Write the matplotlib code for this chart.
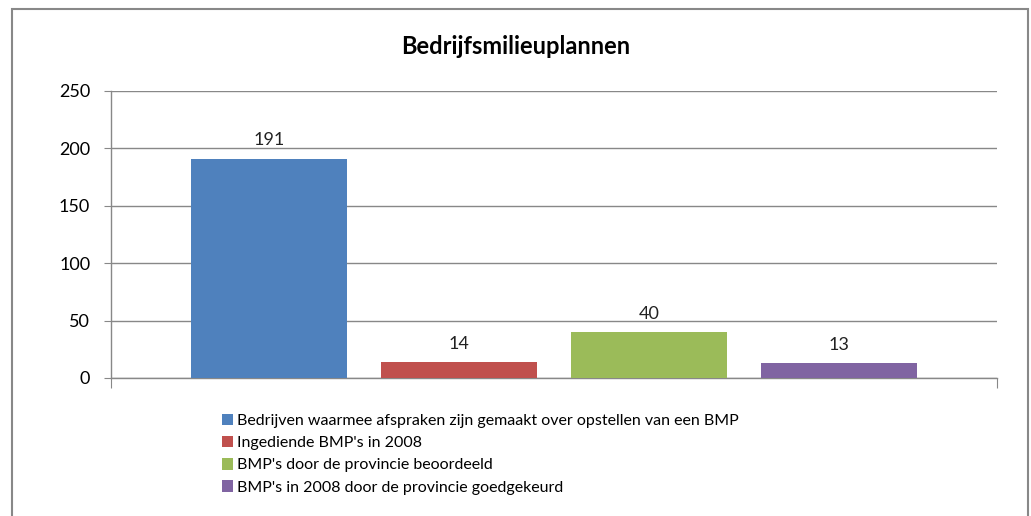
import matplotlib.pyplot as plt
from matplotlib.patches import Rectangle, Patch

plt.rcParams['font.family'] = ['Lato', 'DejaVu Sans']

# Gegevens
labels = ["Bedrijven waarmee afspraken zijn gemaakt over opstellen van een BMP",
          "Ingediende BMP's in 2008",
          "BMP's door de provincie beoordeeld",
          "BMP's in 2008 door de provincie goedgekeurd"]
values = [191, 14, 40, 13]
colors = ['#4F81BD', '#C0504D', '#9BBB59', '#8064A2']

fig = plt.figure(figsize=(10.31, 5.16), dpi=100)
W, H = 1031, 516

# rand om de grafiek
fig.patches.append(Rectangle((12 / W, -0.05), 1016 / W, 1 - 9 / H + 0.05,
                             transform=fig.transFigure, fill=False,
                             edgecolor='#888888', linewidth=1.5))

ax = fig.add_axes([111 / W, 1 - 378 / H, 886 / W, 287 / H])

# één categorie, vier series naast elkaar
step = 0.2144
width = 0.176
x = [(i - 1.5) * step for i in range(len(values))]
ax.bar(x, values, width=width, color=colors, zorder=3)
for xi, v in zip(x, values):
    ax.text(xi, v + 9, str(v), ha='center', va='bottom', fontsize=13, color='#222222')

ax.set_ylim(0, 250)
ax.set_xlim(-0.5, 0.5)
ax.set_yticks(range(0, 251, 50))
ax.tick_params(axis='y', labelsize=13, length=5, color='#888888', pad=10)
ax.set_xticks([-0.5, 0.5])
ax.set_xticklabels([])
ax.tick_params(axis='x', length=7, color='#888888', direction='out')
ax.grid(axis='y', color='#888888', linewidth=1, zorder=0)
for s in ['top', 'right']:
    ax.spines[s].set_visible(False)
for s in ['left', 'bottom']:
    ax.spines[s].set_color('#888888')
    ax.spines[s].set_linewidth(1)

fig.text(0.5, 1 - 47 / H, 'Bedrijfsmilieuplannen', ha='center', va='center',
         fontsize=17, fontweight='bold')

handles = [Patch(facecolor=c) for c in colors]
fig.legend(handles, labels, loc='upper left', bbox_to_anchor=(214 / W, 1 - 406 / H),
           frameon=False, fontsize=11.5, handlelength=0.7, handleheight=0.7,
           handletextpad=0.25, labelspacing=0.5, borderpad=0)

fig.savefig('out.png', dpi=100)
